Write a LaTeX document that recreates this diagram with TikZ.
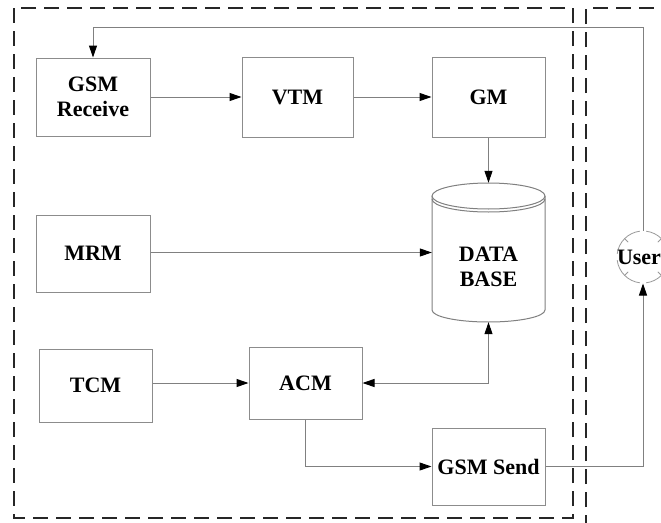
\documentclass[tikz,border=0pt]{standalone}
\usepackage{fontspec}
\setmainfont{Liberation Serif}
\usetikzlibrary{arrows.meta,calc}
\begin{document}
\begin{tikzpicture}[x=1pt,y=-1pt,
  box/.style={draw=black!45,line width=1pt,inner sep=0pt,align=center,
    font=\bfseries\fontsize{22}{25}\selectfont},
  conn/.style={draw=black!50,line width=1pt},
  arr/.style={-{Triangle[length=12pt,width=8pt,color=black]}},
  biarr/.style={{Triangle[length=12pt,width=8pt,color=black]}-{Triangle[length=12pt,width=8pt,color=black]}},
  dashbox/.style={draw=black!85,line width=2pt,dash pattern=on 15pt off 8pt}]
\useasboundingbox (0,0) rectangle (661,522);
\fill[white] (0,0) rectangle (661,522);
% dashed boundaries
\draw[dashbox] (14,8) rectangle (573,518);
\draw[dashbox] (586,530) -- (586,8) -- (675,8);
% boxes
\node[box,minimum width=114pt,minimum height=78pt] (gsr) at (93,97) {GSM\\Receive};
\node[box,minimum width=111pt,minimum height=80pt] (vtm) at (297.5,97) {VTM};
\node[box,minimum width=113pt,minimum height=80pt] (gm) at (488.5,97) {GM};
\node[box,minimum width=114pt,minimum height=77pt] (mrm) at (93,253.5) {MRM};
\node[box,minimum width=113pt,minimum height=73pt] (tcm) at (95.5,385.5) {TCM};
\node[box,minimum width=113pt,minimum height=72pt] (acm) at (305.5,383) {ACM};
\node[box,minimum width=113pt,minimum height=77pt] (gss) at (488.5,466.5) {GSM Send};
% database cylinder
\node[inner sep=0pt,minimum width=113pt,minimum height=139pt] (db) at (488.5,252.5) {};
\draw[conn] (432,196) -- (432,310) arc[start angle=180,end angle=360,x radius=56.5pt,y radius=12pt] -- (545,196);
\draw[conn,fill=white] (488.5,196) ellipse[x radius=56.5pt,y radius=13pt];
\draw[conn] (432,199) arc[start angle=180,end angle=360,x radius=56.5pt,y radius=13pt];
\node[box,draw=none] (dbt) at (488.5,267) {DATA\\BASE};
% user
\node[box,draw=none,circle,minimum size=52pt] (user) at (643,257) {};
\foreach \a in {45,135,225,315}{
  \draw[black!40,line width=0.8pt] (user.center) ++(\a-38:26pt) arc[start angle=\a-38,end angle=\a+38,radius=26pt];
  \draw[black!40,line width=0.8pt] ($(user.center)+(\a:26pt)$) -- ($(user.center)+(\a:21pt)$);
}
\node[box,draw=none] (usert) at (639,257) {User};
% connectors
\coordinate (fb) at (643,27);
\draw[conn,arr] (user.north) -- (fb) -| (gsr.north);
\draw[conn,arr] (gsr.east) -- (vtm.west);
\draw[conn,arr] (vtm.east) -- (gm.west);
\draw[conn,arr] (gm.south) -- (db.north);
\draw[conn,arr] (mrm.east |- db.west) -- (db.west);
\draw[conn,arr] (tcm.east |- acm.west) -- (acm.west);
\draw[conn,biarr] (acm.east) -- (acm.east -| db.south) -- (db.south);
\draw[conn,arr] (acm.south) |- (gss.west);
\draw[conn,arr] (gss.east) -| (user.south);
\end{tikzpicture}
\end{document}
